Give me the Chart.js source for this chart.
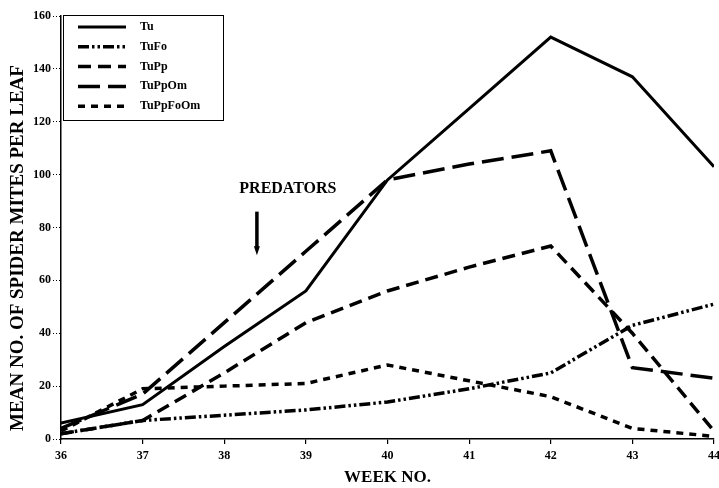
<!DOCTYPE html>
<html>
<head>
<meta charset="utf-8">
<script src="https://cdn.jsdelivr.net/npm/chart.js@4.4.1/dist/chart.umd.min.js"></script>
<style>
  html,body{margin:0;padding:0;background:#fff;}
  #wrap{width:719px;height:488px;position:relative;}
</style>
</head>
<body>
<div id="wrap"><canvas id="ch"></canvas></div>
<script>
// weekly means per treatment
const weeks=[36,37,38,39,40,41,42,43,44];
const tu      =[6, 13, 35, 56, 98, 125, 152, 137, 103];
const tuFo    =[2, 7, 9, 11, 14, 19, 25, 43, 51];
const tuPp    =[2, 7, 25, 44, 56, 65, 73, 40, 3];
const tuPpOm  =[4, 17, 44, 71, 98, 104, 109, 27, 23];
const tuPpFoOm=[3, 19, 20, 21, 28, 22, 16, 4, 1];
const yTicks=[0,20,40,60,80,100,120,140,160];

const FONT="'Liberation Serif','Times New Roman',serif";
const K='#000';
const Y_TITLE='MEAN NO. OF SPIDER MITES PER LEAF';

const series=[
  {label:'Tu',       v:tu,       dash:[],                 w:3},
  {label:'TuFo',     v:tuFo,     dash:[11,3,2.5,3,2.5,3], w:3.5},
  {label:'TuPp',     v:tuPp,     dash:[13,7],             w:3.5},
  {label:'TuPpOm',   v:tuPpOm,   dash:[22,8],             w:3.5},
  {label:'TuPpFoOm', v:tuPpFoOm, dash:[7,6],              w:3.5},
];

// boxed legend in the upper-left corner of the plot
const boxLegend={
  id:'boxLegend',
  afterDatasetsDraw(chart){
    const {ctx,chartArea:a}=chart;
    const x0=a.left+2, y0=a.top-1, w=160, h=105;
    ctx.save();
    ctx.fillStyle='#fff'; ctx.fillRect(x0,y0,w,h);
    ctx.strokeStyle=K; ctx.lineWidth=1; ctx.setLineDash([]);
    ctx.strokeRect(x0+0.5,y0+0.5,w,h);
    chart.data.datasets.forEach((ds,i)=>{
      const y=y0+12+i*19.8;
      ctx.beginPath();
      ctx.setLineDash(ds.borderDash||[]);
      ctx.lineWidth=ds.borderWidth; ctx.strokeStyle=K;
      ctx.moveTo(x0+15,y); ctx.lineTo(x0+63,y); ctx.stroke();
      ctx.setLineDash([]);
      ctx.fillStyle=K; ctx.font='bold 12px '+FONT;
      ctx.textAlign='left'; ctx.textBaseline='middle';
      ctx.fillText(ds.label,x0+77,y);
    });
    ctx.restore();
  }
};

// vertical y title, sits a bit lower than the axis centre
const yTitle={
  id:'yTitle',
  afterDraw(chart){
    const {ctx}=chart;
    ctx.save();
    ctx.translate(18,248); ctx.rotate(-Math.PI/2);
    ctx.fillStyle=K; ctx.font='bold 19px '+FONT;
    ctx.textAlign='center'; ctx.textBaseline='middle';
    ctx.fillText(Y_TITLE,0,0);
    ctx.restore();
  }
};

// label + arrow marking when predators were released
const predators={
  id:'predators',
  afterDatasetsDraw(chart){
    const {ctx,scales:{x,y}}=chart;
    const ax=x.getPixelForValue(38.4);
    ctx.save();
    ctx.fillStyle=K; ctx.strokeStyle=K;
    ctx.font='bold 16px '+FONT; ctx.textAlign='center'; ctx.textBaseline='middle';
    ctx.fillText('PREDATORS',x.getPixelForValue(38.78),y.getPixelForValue(94.5));
    const top=y.getPixelForValue(86), bot=y.getPixelForValue(69.5);
    ctx.lineWidth=3.5;
    ctx.beginPath(); ctx.moveTo(ax,top); ctx.lineTo(ax,bot-7); ctx.stroke();
    ctx.beginPath(); ctx.moveTo(ax-3,bot-9); ctx.lineTo(ax+3,bot-9); ctx.lineTo(ax,bot); ctx.closePath(); ctx.fill();
    ctx.restore();
  }
};

new Chart(document.getElementById('ch'),{
  type:'line',
  data:{
    datasets:series.map(s=>({
      label:s.label,
      data:weeks.map((w,i)=>({x:w,y:s.v[i]})),
      borderColor:K, borderWidth:s.w, borderDash:s.dash,
      pointRadius:0, tension:0, fill:false
    }))
  },
  options:{
    responsive:true, maintainAspectRatio:false, animation:false,
    layout:{padding:{top:16,left:0,right:0,bottom:0}},
    plugins:{legend:{display:false},tooltip:{enabled:false}},
    scales:{
      x:{
        type:'linear', min:36, max:44,
        afterBuildTicks:s=>{ s.ticks=weeks.map(v=>({value:v})); },
        afterFit:s=>{ s.height=49; s.paddingRight=5; },
        border:{display:true,color:K,width:1.5},
        grid:{drawOnChartArea:false,drawTicks:true,tickLength:5,color:K,lineWidth:1.2},
        ticks:{color:K,padding:5,maxRotation:0,font:{family:FONT,weight:'bold',size:12}},
        title:{display:true,text:'WEEK NO.',color:K,padding:{top:0,bottom:0},font:{family:FONT,weight:'bold',size:17}}
      },
      y:{
        min:0, max:160,
        afterBuildTicks:s=>{ s.ticks=yTicks.map(v=>({value:v})); },
        afterFit:s=>{ s.width=61; },
        border:{display:true,color:K,width:1.5},
        grid:{drawOnChartArea:false,drawTicks:true,tickLength:8,color:K,lineWidth:1,tickBorderDash:[1,2]},
        ticks:{color:K,padding:2,font:{family:FONT,weight:'bold',size:12}}
      }
    }
  },
  plugins:[boxLegend,predators,yTitle]
});
</script>
</body>
</html>
